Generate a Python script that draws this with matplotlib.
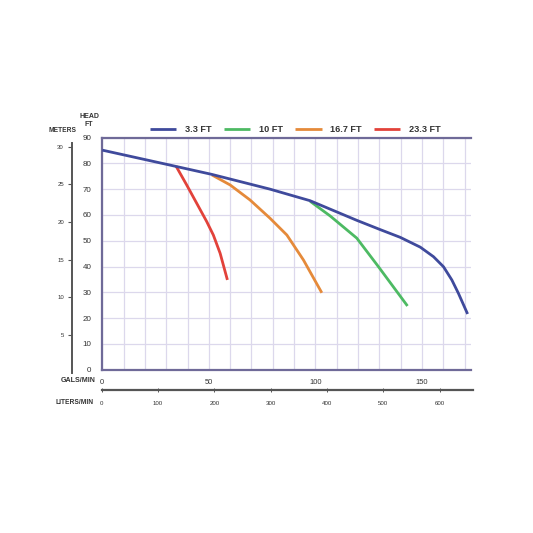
import matplotlib
matplotlib.use("Agg")
import matplotlib.pyplot as plt
import numpy as np

plt.rcParams["font.family"] = ["Liberation Sans", "DejaVu Sans"]

# ---- data ----
curve_labels = ["3.3 FT", "10 FT", "16.7 FT", "23.3 FT"]
curve_colors = ["#3f4a9c", "#4dba63", "#e58a3a", "#e2423a"]

gpm_33 = [0, 31.8, 51.4, 78.6, 97.5, 119.4, 130.4, 139.8, 149.2, 155.4, 160.1, 164.0, 167.1, 171.4]
head_33 = [85.1, 79.3, 75.7, 70.0, 65.5, 57.9, 54.3, 51.3, 47.5, 43.8, 39.9, 34.8, 29.6, 21.6]

gpm_10 = [97.5, 106.9, 119.4, 129.5, 143.2]
head_10 = [65.3, 59.6, 51.0, 40.0, 24.7]

gpm_167 = [51.4, 60.0, 69.3, 78.7, 86.6, 94.4, 103.0]
head_167 = [75.5, 71.6, 65.8, 58.7, 52.2, 42.5, 29.8]

gpm_233 = [34.6, 39.6, 44.3, 49.0, 52.1, 55.3, 58.7]
head_233 = [78.9, 71.6, 64.5, 57.4, 52.2, 45.1, 34.8]

ft_ticks = [0, 10, 20, 30, 40, 50, 60, 70, 80, 90]
gal_ticks = [0, 50, 100, 150]
meter_ticks = [5, 10, 15, 20, 25, 30]
liter_ticks = [0, 100, 200, 300, 400, 500, 600]

GAL_TO_L = 3.785

W = H = 533
fig = plt.figure(figsize=(5.33, 5.33), dpi=100)
fig.patch.set_facecolor("white")

def fx(px):
    return px / W

def fy(py):
    return 1 - py / H

L, R, T, B = 102.3, 471.0, 137.5, 369.7
ax = fig.add_axes([fx(L), fy(B), fx(R - L), fy(T) - fy(B)])

xmax = 173
ax.set_xlim(0, xmax)
ax.set_ylim(0, 90)

frame_col = "#6f6a98"
grid_col = "#dcd8ec"
text_col = "#333333"

for s in ["left", "top", "bottom"]:
    ax.spines[s].set_color(frame_col)
    ax.spines[s].set_linewidth(1.6)
ax.spines["right"].set_visible(False)

ax.set_xticks(gal_ticks)
ax.set_xticks(np.arange(0, xmax, 10), minor=True)
ax.set_yticks(ft_ticks)
ax.grid(True, which="both", color=grid_col, linewidth=0.9)
ax.set_axisbelow(True)
ax.tick_params(axis="both", which="both", length=0)
ax.tick_params(axis="x", pad=7, labelsize=5.4, labelcolor=text_col)
ax.tick_params(axis="y", pad=8, labelsize=5.8, labelcolor=text_col)

series = [(gpm_33, head_33), (gpm_10, head_10), (gpm_167, head_167), (gpm_233, head_233)]
for (x, y), lab, c in zip(series, curve_labels, curve_colors):
    ax.plot(x, y, color=c, lw=2.0, label=lab, solid_capstyle="butt",
            solid_joinstyle="round", zorder=4 if lab == "3.3 FT" else 3)

handles, labels = ax.get_legend_handles_labels()
leg = ax.legend(handles, labels, loc="center", bbox_to_anchor=(0.523, 1.033), ncol=4,
                frameon=False, handlelength=2.9, handletextpad=0.9, columnspacing=1.35,
                prop={"size": 6.6, "weight": "bold"}, borderaxespad=0)
for t in leg.get_texts():
    t.set_color(text_col)

# ---- meters axis ----
m_top, m_bot = 142.7, 372.7
m_per_px = 1 / 7.53
axm = fig.add_axes([fx(72.3), fy(m_bot), 0.0001, fy(m_top) - fy(m_bot)])
axm.set_ylim(0, (m_bot - m_top) * m_per_px)
axm.set_xticks([])
for s in ["right", "top", "bottom"]:
    axm.spines[s].set_visible(False)
axm.spines["left"].set_color("#555555")
axm.spines["left"].set_linewidth(1.4)
axm.set_yticks(meter_ticks)
axm.tick_params(axis="y", length=3, width=0.8, color="#555555", pad=3,
                labelsize=4.3, labelcolor=text_col)
axm.patch.set_visible(False)

# ---- liters axis ----
axl = fig.add_axes([fx(101.7), fy(390.3), fx(473 - 101.7), 0.0001])
axl.set_xlim(0, (473 - 101.7) / (R - L) * xmax * GAL_TO_L)
axl.set_yticks([])
for s in ["left", "right", "top"]:
    axl.spines[s].set_visible(False)
axl.spines["bottom"].set_color("#555555")
axl.spines["bottom"].set_linewidth(1.6)
axl.set_xticks(liter_ticks)
axl.tick_params(axis="x", direction="inout", length=3, width=0.7, color="#555555",
                pad=6, labelsize=4.4, labelcolor=text_col)
axl.patch.set_visible(False)

# ---- labels ----
fig.text(fx(89), fy(116.7), "HEAD", ha="center", va="center", fontsize=5.0,
         fontweight="bold", color=text_col)
fig.text(fx(89), fy(124.3), "FT", ha="center", va="center", fontsize=5.0,
         fontweight="bold", color=text_col)
fig.text(fx(62.7), fy(130), "METERS", ha="center", va="center", fontsize=4.8,
         fontweight="bold", color=text_col)
fig.text(fx(95.5), fy(381), "GALS/MIN", ha="right", va="center", fontsize=5.1,
         fontweight="bold", color=text_col)
fig.text(fx(94), fy(402.5), "LITERS/MIN", ha="right", va="center", fontsize=4.8,
         fontweight="bold", color=text_col)

fig.savefig("out.png", dpi=100, facecolor="white")
